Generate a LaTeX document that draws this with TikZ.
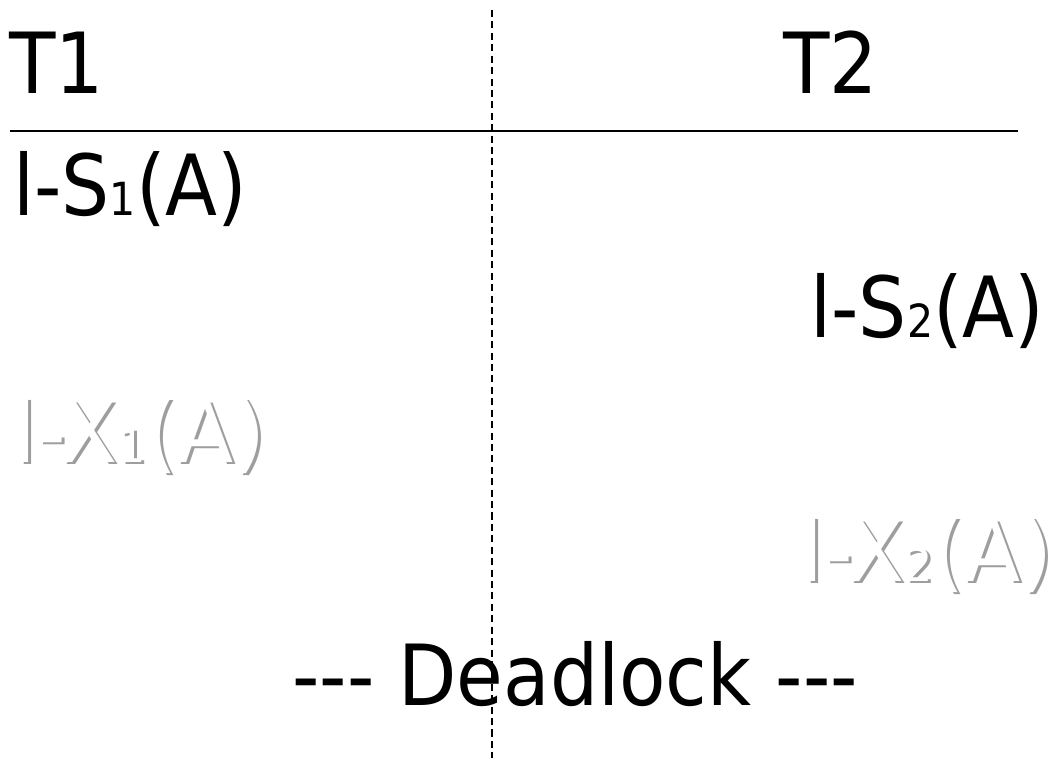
\documentclass[tikz,border=0pt]{standalone}
\usepackage{fontspec}
\setmainfont{DejaVu Sans Condensed}
\usepackage{tikz}
\usetikzlibrary{positioning}
\newcommand\lockidx[1]{{\fontsize{26}{26}\selectfont #1}}
\newcommand\embossed[1]{\rlap{\kern1.7pt\raisebox{-1.7pt}{\color{black!38}#1}}{\color{white}#1}}

\begin{document}
\begin{tikzpicture}[
    x=0.02cm, y=-0.02cm,
    txt/.style={inner sep=0pt, anchor=base west, font=\fontsize{48}{56}\selectfont},
    ghost/.style={txt, xscale=1.08, transform shape},
    rule/.style={line width=1.1pt},
    divider/.style={line width=1.1pt, dash pattern=on 4pt off 2.5pt}
]
\useasboundingbox (0,0) rectangle (1055,758);

% header
\node[txt] (t1) at (9,93) {T1};
\node[txt] (t2) at (783,93) {T2};
\coordinate (rulel) at (10,131);
\coordinate (ruler) at (1018,131);
\draw[rule] (rulel) -- (ruler);

% shared locks
\node[txt] (ls1) at (13,215) {l-S\lockidx{1}(A)};
\node[txt] (ls2) at (810,337) {l-S\lockidx{2}(A)};

% exclusive locks (greyed out)
\node[ghost] (lx1) at (13,462) {\embossed{l-X\lockidx{1}(A)}};
\node[ghost] (lx2) at (800,581) {\embossed{l-X\lockidx{2}(A)}};

\node[txt, anchor=base] (deadlock) at (575,705) {-{}-{}- Deadlock -{}-{}-};

% time split
\coordinate (divtop) at (492,10);
\coordinate (divbot) at (492,758);
\draw[divider] (divtop) -- (divbot);
\end{tikzpicture}
\end{document}
